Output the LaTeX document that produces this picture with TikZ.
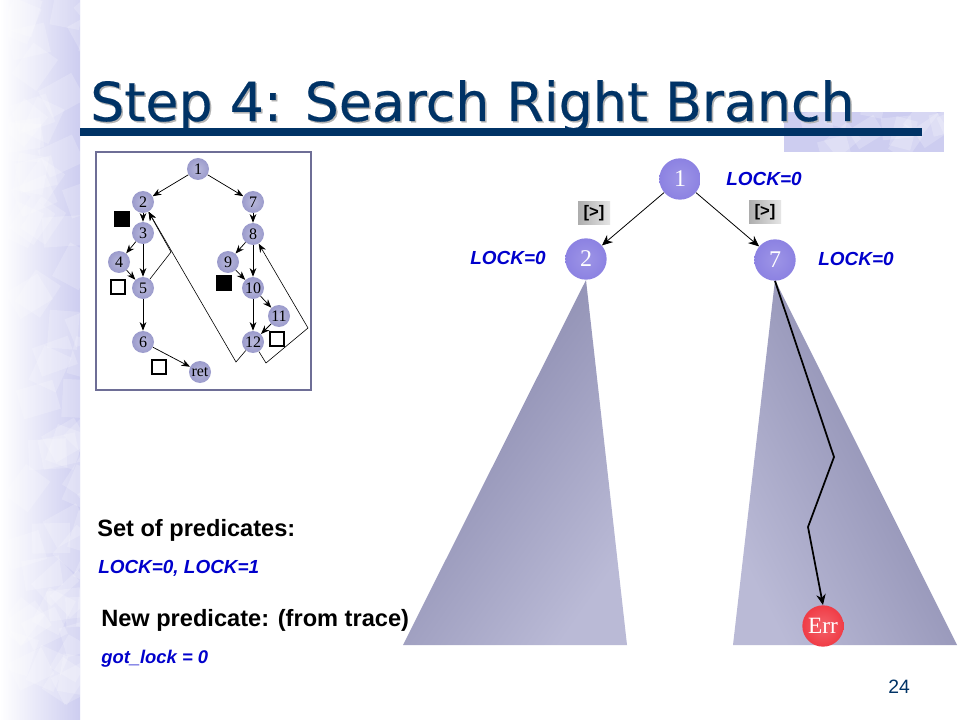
\documentclass[tikz,border=0pt]{standalone}
\usepackage{fontspec}
\setmainfont{Liberation Sans}
\newfontfamily\titlefont[FakeBold=0.35]{DejaVu Sans}
\newfontfamily\numfont{Liberation Serif}
\usetikzlibrary{arrows.meta}
\definecolor{navy}{RGB}{0,51,102}
\definecolor{lockblue}{RGB}{0,0,204}
\definecolor{framec}{RGB}{110,110,150}
\definecolor{paper}{RGB}{205,205,240}
\definecolor{mini}{RGB}{155,155,204}
\definecolor{big}{RGB}{140,130,226}
\definecolor{treedark}{RGB}{130,130,168}
\definecolor{treepale}{RGB}{186,186,214}
\definecolor{errred}{RGB}{240,60,70}

\begin{document}
\begin{tikzpicture}[
  x=0.75pt, y=-0.75pt,
  mininode/.style={circle, minimum size=16.5pt, inner sep=0pt, font=\numfont\fontsize{12}{12}\selectfont,
                   inner color=mini!70, outer color=mini},
  bignode/.style={circle, minimum size=31pt, inner sep=0pt, text=white, font=\numfont\fontsize{18}{18}\selectfont,
                  inner color=big!85!white, outer color=big},
  errnode/.style={bignode, font=\numfont\fontsize{17.5}{17.5}\selectfont, inner color=errred!80!white, outer color=errred},
  ar/.style={-{Stealth[length=6.5pt, width=5pt]}, draw=black, line width=.55pt},
  backar/.style={ar, line width=.45pt},
  treear/.style={-{Stealth[length=8pt, width=7pt]}, draw=black, line width=.6pt},
  lock/.style={font=\bfseries\itshape\fontsize{14.2}{14.2}\selectfont, text=lockblue, inner sep=0pt},
  body/.style={font=\bfseries\fontsize{17.7}{17.7}\selectfont, inner sep=0pt, anchor=west},
  guard/.style={left color=black!32, right color=black!10, font=\bfseries\fontsize{12.5}{12.5}\selectfont,
                minimum width=24pt, minimum height=17.5pt, inner sep=0pt},
  blk/.style={fill=black, minimum size=11.5pt, inner sep=0pt},
  wht/.style={draw=black, fill=white, line width=1.4pt, minimum size=10pt, inner sep=0pt},
  shard/.style={fill=white, fill opacity=.2},
]
\useasboundingbox (0,0) rectangle (960,720);
\fill[white] (0,0) rectangle (960,720);

\shade[left color=white, right color=paper] (0,0) rectangle (80,720);
\begin{scope}
\clip (0,0) rectangle (80,720);
\pgfmathsetseed{24}
\foreach \i in {1,...,70}{
  \pgfmathsetmacro{\px}{rnd*90-5}
  \pgfmathsetmacro{\py}{rnd*730-5}
  \pgfmathsetmacro{\rr}{rnd*90}
  \fill[shard, rotate around={\rr:(\px,\py)}] (\px,\py) rectangle ++(38,30);
}
\end{scope}
\fill[paper] (784,112) rectangle (944,152);
\begin{scope}
\clip (784,112) rectangle (944,152);
\pgfmathsetseed{7}
\foreach \i in {1,...,14}{
  \pgfmathsetmacro{\px}{rnd*170+780}
  \pgfmathsetmacro{\py}{rnd*40+110}
  \pgfmathsetmacro{\rr}{rnd*90}
  \fill[shard, rotate around={\rr:(\px,\py)}] (\px,\py) rectangle ++(30,22);
}
\end{scope}

\node[font=\titlefont\fontsize{40.3}{40.3}\selectfont, text=black!30, inner sep=0pt, anchor=base west] (shadow) at (91.5,122.5) {Step 4: Search Right Branch};
\node[font=\titlefont\fontsize{40.3}{40.3}\selectfont, text=navy, inner sep=0pt, anchor=base west] (title) at (90,121) {Step 4: Search Right Branch};
\fill[navy] (80,128) rectangle (922,136);

\draw[framec, line width=1.5pt, fill=white] (96,152) rectangle (311,390);

\node[mininode] (m1)  at (198,169) {1};
\node[mininode] (m2)  at (143,202) {2};
\node[mininode] (m3)  at (143,233) {3};
\node[mininode] (m4)  at (119,262) {4};
\node[mininode] (m5)  at (143,288) {5};
\node[mininode] (m6)  at (143,342) {6};
\node[mininode] (mret) at (200,372) {ret};
\node[mininode] (m7)  at (253,202) {7};
\node[mininode] (m8)  at (253,234) {8};
\node[mininode] (m9)  at (228,262) {9};
\node[mininode] (m10) at (253,288) {10};
\node[mininode] (m11) at (279,316) {11};
\node[mininode] (m12) at (253,342) {12};

\node[blk] (sq1) at (122,219) {};
\node[blk] (sq2) at (224,283) {};
\node[wht] (sq3) at (118,287) {};
\node[wht] (sq4) at (277,339) {};
\node[wht] (sq5) at (159,367) {};

\draw[ar] (m1) -- (m2);
\draw[ar] (m1) -- (m7);
\draw[ar] (m2) -- (m3);
\draw[ar] (m3) -- (m4);
\draw[ar] (m3) -- (m5);
\draw[ar] (m4) -- (m5);
\draw[ar] (m5) -- (m6);
\draw[ar] (m6) -- (mret);
\draw[ar] (m7) -- (m8);
\draw[ar] (m8) -- (m9);
\draw[ar] (m8) -- (m10);
\draw[ar] (m9) -- (m10);
\draw[ar] (m10) -- (m11);
\draw[ar] (m10) -- (m12);
\draw[ar] (m11) -- (m12);
\coordinate (b1) at (171,252);
\coordinate (b2) at (236,362);
\coordinate (b3) at (266,363);
\coordinate (b4) at (308,328);
\draw[backar] (m5) -- (b1) -- (m2);
\draw[backar] (m12) -- (b2) -- (m2);
\draw[backar] (m12) -- (b3) -- (b4) -- (m8);

\shade[top color=treedark, bottom color=treepale, shading angle=55] (586,280) -- (403,645) -- (627,645) -- cycle;
\shade[top color=treedark, bottom color=treepale, shading angle=-63] (775,280) -- (733,645) -- (957,645) -- cycle;

\node[bignode] (n1) at (680,179) {1};
\node[bignode] (n2) at (586,259) {2};
\node[bignode] (n7) at (775,260) {7};
\node[errnode] (err) at (823,626) {Err};

\draw[treear] (n1) -- (n2);
\draw[treear] (n1) -- (n7);
\coordinate (t1) at (834,457);
\coordinate (t2) at (808,527);
\draw[treear, line width=1.3pt] (n7.south) -- (t1) -- (t2) -- (err.north);

\node[guard] (g1) at (594,213) {[>]};
\node[guard] (g2) at (765,212) {[>]};
\node[lock] (l1) at (764,179) {LOCK=0};
\node[lock] (l2) at (508,258) {LOCK=0};
\node[lock] (l7) at (856,259) {LOCK=0};

\node[body] (set) at (97,530) {Set of predicates:};
\node[lock, anchor=west] (preds) at (98,568) {LOCK=0, LOCK=1};
\node[body] (newp) at (101,620) {New predicate: (from trace)};
\node[lock, anchor=west, font=\bfseries\itshape\fontsize{13.8}{13.8}\selectfont] (got) at (101,659) {got\_lock = 0};
\node[font=\fontsize{14.5}{14.5}\selectfont, text=navy, inner sep=0pt] (pg) at (899,687) {24};
\end{tikzpicture}
\end{document}
